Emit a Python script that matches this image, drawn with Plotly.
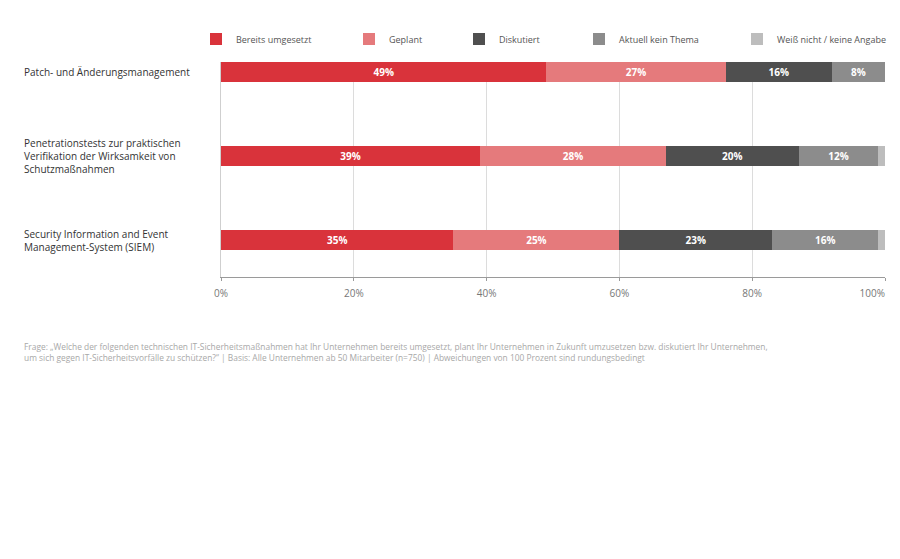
import plotly.graph_objects as go

categories = [
    "Patch- und Änderungsmanagement",
    "Penetrationstests zur praktischen<br>Verifikation der Wirksamkeit von<br>Schutzmaßnahmen",
    "Security Information and Event<br>Management-System (SIEM)",
]
series_names = ["Bereits umgesetzt", "Geplant", "Diskutiert", "Aktuell kein Thema", "Weiß nicht / keine Angabe"]
bereits = [49, 39, 35]
geplant = [27, 28, 25]
diskutiert = [16, 20, 23]
kein_thema = [8, 12, 16]
weiss_nicht = [0, 1, 1]
series_values = [bereits, geplant, diskutiert, kein_thema, weiss_nicht]
tick_vals = [0, 20, 40, 60, 80, 100]
tick_text = ["0%", "20%", "40%", "60%", "80%", "100%"]
footnote = ("Frage: „Welche der folgenden technischen IT-Sicherheitsmaßnahmen hat Ihr Unternehmen bereits umgesetzt, plant Ihr Unternehmen in Zukunft umzusetzen bzw. diskutiert Ihr Unternehmen,<br>"
            "um sich gegen IT-Sicherheitsvorfälle zu schützen?“ | Basis: Alle Unternehmen ab 50 Mitarbeiter (n=750) | Abweichungen von 100 Prozent sind rundungsbedingt")

colors = ["#d9333b", "#e57a7c", "#4f4f4f", "#8c8c8c", "#bdbdbd"]
FONT = "Open Sans"

OFF = 8  # page body offset
W, H = 900 - OFF, 559 - OFF
L = 221 - OFF
T = 62 - OFF
R = W - (885 - OFF)
B = H - (277 - OFF)
pw = W - L - R
ph = H - T - B

def px_x(px):
    return (px - OFF - L) / pw

def px_y(py):
    return (H - B - (py - OFF)) / ph

legend_text_x = [236, 389, 499, 619, 777]

fig = go.Figure()
ycat = list(range(len(categories)))
for i, (name, vals, col) in enumerate(zip(series_names, series_values, colors)):
    fig.add_trace(go.Bar(
        name=name,
        y=ycat,
        x=vals,
        orientation="h",
        marker=dict(color=col, line=dict(width=0)),
        width=0.238,
        text=[f"{v}%" if v >= 5 else "" for v in vals],
        textposition="inside",
        insidetextanchor="middle",
        textfont=dict(color="white", size=10, family=FONT, weight="bold"),
        legend="legend" if i == 0 else f"legend{i+1}",
        hoverinfo="skip",
    ))

# empty helper trace so the overlaid axis (carrying the last tick label) is drawn
fig.add_trace(go.Scatter(x=[], y=[], xaxis="x2", yaxis="y", showlegend=False, hoverinfo="skip"))

leg_common = dict(
    orientation="h", yanchor="middle", xanchor="left",
    y=px_y(39), font=dict(size=9, color="#555555", family=FONT),
    bgcolor="rgba(0,0,0,0)", itemclick=False,
)
legends = {}
for i, tx in enumerate(legend_text_x):
    key = "legend" if i == 0 else f"legend{i+1}"
    legends[key] = dict(leg_common, x=px_x(tx - 40))

annotations = []
for i, c in enumerate(categories):
    annotations.append(dict(
        text=c, x=px_x(22), xref="paper", y=i, yref="y",
        xanchor="left", yanchor="middle", align="left", showarrow=False,
        font=dict(size=10, color="#333333", family=FONT, weight=500),
    ))
annotations.append(dict(
    text=footnote, x=px_x(22), xref="paper", y=px_y(339), yref="paper",
    xanchor="left", yanchor="top", align="left", showarrow=False,
    font=dict(size=8.4, color="#a8a8a8", family=FONT),
))

tickfont = dict(size=10, color="#777777", family=FONT)

fig.update_layout(
    width=W, height=H,
    margin=dict(l=L, r=R, t=T, b=B, pad=0, autoexpand=False),
    barmode="stack",
    plot_bgcolor="white", paper_bgcolor="white",
    showlegend=True,
    annotations=annotations,
    font=dict(family=FONT),
    xaxis=dict(
        range=[0, 100], tickvals=tick_vals, ticktext=tick_text[:-1] + [""],
        showgrid=True, gridcolor="#dcdcdc", gridwidth=1,
        showline=True, linecolor="#9a9a9a", linewidth=1,
        ticks="outside", ticklen=3, tickcolor="#9a9a9a",
        ticklabelstandoff=4, tickfont=tickfont,
        zeroline=False, fixedrange=True, automargin=False,
    ),
    xaxis2=dict(
        overlaying="x", range=[0, 100], anchor="y", side="bottom",
        tickvals=tick_vals[-1:], ticktext=tick_text[-1:],
        ticklabelposition="outside left", ticklabelstandoff=9,
        ticks="", showgrid=False, showline=False, zeroline=False,
        tickfont=tickfont, fixedrange=True, automargin=False,
    ),
    yaxis=dict(
        range=[len(categories) - 1 + 0.44, -0.119],
        showticklabels=False, showgrid=False, zeroline=False,
        showline=True, linecolor="#cfcfcf", linewidth=1,
        fixedrange=True, automargin=False,
    ),
    **legends,
)

fig.write_html("out.html")
